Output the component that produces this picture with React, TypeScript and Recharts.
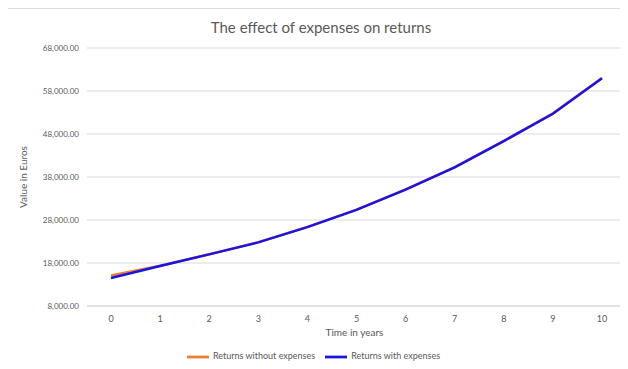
import React from "react";
import {
  LineChart,
  Line,
  XAxis,
  YAxis,
  CartesianGrid,
  Legend,
} from "recharts";

const years = ["0", "1", "2", "3", "4", "5", "6", "7", "8", "9", "10"];
const withoutExpenses = [15100, 17350, 20050, 22850, 26400, 30400, 35100, 40300, 46400, 52800, 61000];
const withExpenses = [14500, 17300, 20000, 22800, 26350, 30350, 35060, 40240, 46350, 52700, 60950];
const yTicks = [8000, 18000, 28000, 38000, 48000, 58000, 68000];

const data = years.map((year, i) => ({
  year,
  a: withoutExpenses[i],
  b: withExpenses[i],
}));

const fmt = (v: number) =>
  v.toLocaleString("en-US", { minimumFractionDigits: 2, maximumFractionDigits: 2 });

const font = "Lato, 'Open Sans', sans-serif";
const grey = "#595959";

const App = () => {
  return (
    <div
      style={{
        position: "relative",
        marginLeft: -2,
        width: 620,
        height: 361,
        borderTop: "1px solid #d9d9d9",
        borderLeft: "1px solid #d9d9d9",
        fontFamily: font,
      }}
    >
      <div
        style={{
          position: "absolute",
          top: 9,
          left: 0,
          width: 628,
          textAlign: "center",
          fontSize: 15,
          color: grey,
        }}
      >
        The effect of expenses on returns
      </div>
      <LineChart
        width={620}
        height={360}
        data={data}
        margin={{ top: 39, right: 5, left: 8, bottom: 1 }}
      >
        <CartesianGrid vertical={false} stroke="#d9d9d9" />
        <XAxis
          dataKey="year"
          padding={{ left: 24, right: 20 }}
          tickLine={false}
          axisLine={{ stroke: "#d9d9d9" }}
          tick={{ fontSize: 9, fill: grey }}
          tickMargin={4}
          height={40}
          label={{ value: "Time in years", position: "insideBottom", offset: 10, fontSize: 10, fill: grey }}
        />
        <YAxis
          domain={[8000, 68000]}
          ticks={yTicks}
          tickFormatter={fmt}
          tickLine={false}
          axisLine={false}
          width={72}
          tick={{ fontSize: 8, fill: grey }}
          label={{
            value: "Value in Euros",
            angle: -90,
            position: "insideLeft",
            offset: 8,
            fontSize: 10,
            fill: grey,
            style: { textAnchor: "middle" },
          }}
        />
        <Legend
          verticalAlign="bottom"
          iconSize={22}
          itemSorter="dataKey"
          formatter={(value: string) => <span style={{ color: grey }}>{value}</span>}
          wrapperStyle={{ fontSize: 9 }}
        />
        <Line
          dataKey="a"
          name="Returns without expenses"
          stroke="#ED7D31"
          strokeWidth={2.5}
          dot={false}
          legendType="plainline"
          isAnimationActive={false}
        />
        <Line
          dataKey="b"
          name="Returns with expenses"
          stroke="#1a14e0"
          strokeWidth={2.5}
          dot={false}
          legendType="plainline"
          isAnimationActive={false}
        />
      </LineChart>
    </div>
  );
};

export default App;
